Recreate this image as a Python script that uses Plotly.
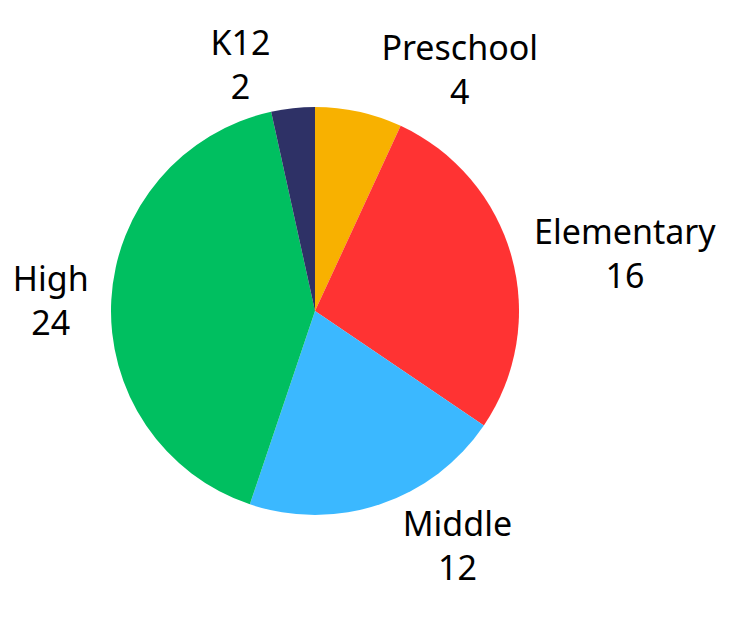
import plotly.graph_objects as go

labels = ["Preschool", "Elementary", "Middle", "High", "K12"]
values = [4, 16, 12, 24, 2]
colors = ["#F8B100", "#FF3333", "#3BB8FF", "#00BF60", "#2E3166"]

fig = go.Figure(go.Pie(
    labels=labels,
    values=values,
    sort=False,
    direction="clockwise",
    rotation=0,
    marker=dict(colors=colors, line=dict(width=0)),
    textposition="outside",
    texttemplate="%{label}<br>%{value}",
    textfont=dict(family="Noto Sans", size=34, color="#000000"),
    hoverinfo="label+value",
    showlegend=False,
))

fig.update_layout(
    width=739, height=618,
    margin=dict(l=99, r=228, t=97, b=109),
    paper_bgcolor="white",
    plot_bgcolor="white",
)

fig.write_html("out.html")
